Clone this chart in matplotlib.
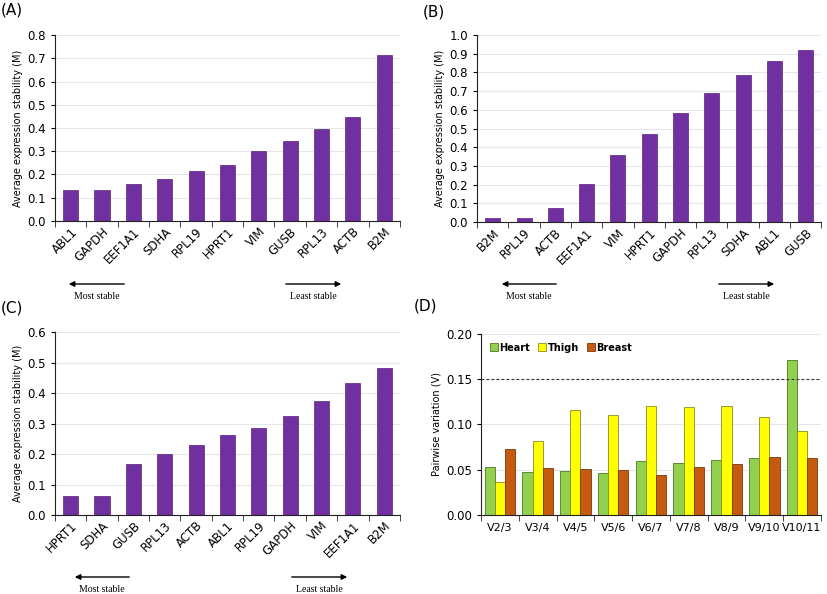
import numpy as np
import matplotlib
matplotlib.use("Agg")
import matplotlib.pyplot as plt

# panel A
genes_a = ["ABL1", "GAPDH", "EEF1A1", "SDHA", "RPL19", "HPRT1", "VIM", "GUSB", "RPL13", "ACTB", "B2M"]
m_a = [0.133, 0.133, 0.160, 0.180, 0.213, 0.240, 0.300, 0.345, 0.395, 0.447, 0.712]
# panel B
genes_b = ["B2M", "RPL19", "ACTB", "EEF1A1", "VIM", "HPRT1", "GAPDH", "RPL13", "SDHA", "ABL1", "GUSB"]
m_b = [0.022, 0.022, 0.078, 0.203, 0.358, 0.470, 0.582, 0.690, 0.787, 0.862, 0.918]
# panel C
genes_c = ["HPRT1", "SDHA", "GUSB", "RPL13", "ACTB", "ABL1", "RPL19", "GAPDH", "VIM", "EEF1A1", "B2M"]
m_c = [0.062, 0.062, 0.167, 0.200, 0.230, 0.262, 0.285, 0.325, 0.373, 0.432, 0.483]
# panel D
pairs = ["V2/3", "V3/4", "V4/5", "V5/6", "V6/7", "V7/8", "V8/9", "V9/10", "V10/11"]
heart = [0.053, 0.047, 0.049, 0.046, 0.060, 0.057, 0.061, 0.063, 0.171]
thigh = [0.036, 0.082, 0.116, 0.110, 0.120, 0.119, 0.120, 0.108, 0.093]
breast = [0.073, 0.052, 0.051, 0.050, 0.044, 0.053, 0.056, 0.064, 0.063]

PURPLE = "#7030A0"
fig = plt.figure(figsize=(8.27, 5.94), dpi=100)


def style_axes(ax, n):
    for s in ["top", "right"]:
        ax.spines[s].set_visible(False)
    for s in ["left", "bottom"]:
        ax.spines[s].set_color("#222222")
    ax.set_xlim(-0.5, n - 0.5)
    ax.set_xticks(np.arange(n + 1) - 0.5, minor=True)
    ax.tick_params(axis="x", which="major", length=0, labelsize=8.5, pad=3)
    ax.tick_params(axis="x", which="minor", length=4, direction="out", color="#222222")
    ax.tick_params(axis="y", length=3, labelsize=8.5)
    ax.yaxis.grid(True, color="#e6e6e6", lw=0.8)
    ax.set_axisbelow(True)


def m_panel(rect, genes, vals, ymax, label, label_y, arrow_y, arrows):
    ax = fig.add_axes(rect)
    x = np.arange(len(genes))
    ax.bar(x, vals, width=0.48, color=PURPLE, edgecolor="#5a2080", lw=0.5)
    style_axes(ax, len(genes))
    ax.set_ylim(0, ymax)
    ax.set_yticks(np.arange(0, ymax + 0.001, 0.1))
    ax.set_yticklabels([f"{v:.1f}" for v in np.arange(0, ymax + 0.001, 0.1)])
    ax.set_xticks(x)
    ax.set_xticklabels(genes, rotation=45, ha="right", rotation_mode="anchor")
    ax.set_ylabel("Average expression stability (M)", fontsize=7, labelpad=3)
    fig.text(rect[0] - 0.066, label_y, label, fontsize=11, va="center")
    (l0, l1), (r0, r1) = arrows
    fig.add_artist(matplotlib.patches.FancyArrowPatch((l0, arrow_y), (l1, arrow_y),
                   transform=fig.transFigure, arrowstyle="-|>", mutation_scale=8, color="black", lw=1))
    fig.add_artist(matplotlib.patches.FancyArrowPatch((r0, arrow_y), (r1, arrow_y),
                   transform=fig.transFigure, arrowstyle="-|>", mutation_scale=8, color="black", lw=1))
    fig.text((l0 + l1) / 2, arrow_y - 0.021, "Most stable", family="Liberation Serif",
             fontsize=7, ha="center", va="center")
    fig.text((r0 + r1) / 2, arrow_y - 0.021, "Least stable", family="Liberation Serif",
             fontsize=7, ha="center", va="center")
    return ax


W = 827.0
H = 594.0
m_panel([0.0665, 0.628, 0.417, 0.313], genes_a, m_a, 0.8, "(A)", 1 - 10 / H, 1 - 284 / H,
        ((127 / W, 66 / W), (283 / W, 344 / W)))
m_panel([0.577, 0.626, 0.416, 0.315], genes_b, m_b, 1.0, "(B)", 1 - 12 / H, 1 - 284 / H,
        ((559 / W, 499 / W), (716 / W, 777 / W)))
m_panel([0.0665, 0.133, 0.417, 0.308], genes_c, m_c, 0.6, "(C)", 1 - 308 / H, 1 - 577 / H,
        ((132 / W, 72 / W), (289 / W, 350 / W)))

# panel D
ax = fig.add_axes([0.5816, 0.133, 0.411, 0.305])
x = np.arange(len(pairs))
w = 0.27
ax.bar(x - w, heart, width=w, color="#92D050", edgecolor="#4f7a20", lw=0.6, label="Heart")
ax.bar(x, thigh, width=w, color="#FFFF00", edgecolor="#8a8a20", lw=0.6, label="Thigh")
ax.bar(x + w, breast, width=w, color="#C55A11", edgecolor="#7a3808", lw=0.6, label="Breast")
style_axes(ax, len(pairs))
ax.axhline(0.15, color="#333333", ls=(0, (2.5, 2)), lw=0.8)
ax.set_ylim(0, 0.2)
ax.set_yticks([0, 0.05, 0.10, 0.15, 0.20])
ax.set_yticklabels(["0.00", "0.05", "0.10", "0.15", "0.20"])
ax.set_xticks(x)
ax.set_xticklabels(pairs, fontsize=8)
ax.tick_params(axis="x", which="major", pad=6)
ax.set_ylabel("Pairwise variation (V)", fontsize=7, labelpad=3)
ax.legend(loc="upper left", ncol=3, frameon=False, prop={"weight": "bold", "size": 7},
          handlelength=0.8, handleheight=0.8, handletextpad=0.2, columnspacing=0.8,
          bbox_to_anchor=(0.0, 1.0))
fig.text(0.5816 - 0.081, 1 - 306 / H, "(D)", fontsize=11, va="center")

fig.savefig("out.png", dpi=100, facecolor="white")
